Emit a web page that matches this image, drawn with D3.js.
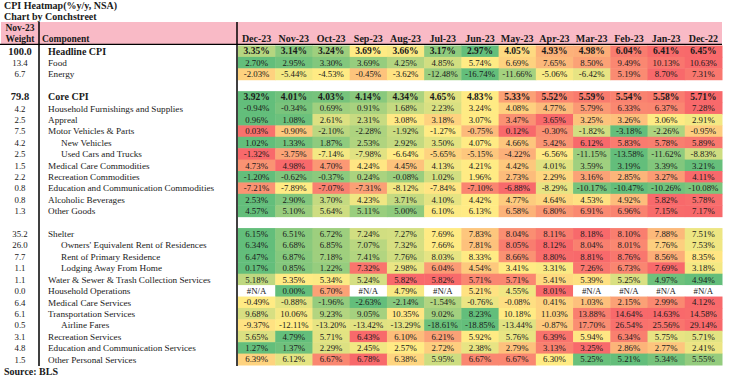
<!DOCTYPE html>
<html>
<head>
<meta charset="utf-8">
<script src="https://cdn.jsdelivr.net/npm/d3@7"></script>
<style>
  html, body { margin: 0; padding: 0; background: #fff; }
  svg { display: block; }
  text { font-family: Georgia, "Liberation Serif", "DejaVu Serif", serif; fill: #1a1a1a; }
</style>
</head>
<body>
<svg id="chart" width="740" height="380"></svg>
<script>
// ---------------- DATA ----------------
const months = ["Dec-23","Nov-23","Oct-23","Sep-23","Aug-23","Jul-23","Jun-23","May-23","Apr-23","Mar-23","Feb-23","Jan-23","Dec-22"];

const components = [
  "Headline CPI","Food","Energy",null,
  "Core CPI","Household Furnishings and Supplies","Appreal","Motor Vehicles & Parts",
  "New Vehicles","Used Cars and Trucks","Medical Care Commodities","Recreation Commodities",
  "Education and Communication Commodities","Alcoholic Beverages","Other Goods",null,
  "Shelter","Owners' Equivalent Rent of Residences","Rent of Primary Residence","Lodging Away From Home",
  "Water & Sewer & Trash Collection Services","Household Operations","Medical Care Services",
  "Transportation Services","Airline Fares","Recreation Services",
  "Education and Communication Services","Other Personal Services"
];

const weights = [
  "100.0","13.4","6.7",null,
  "79.8","4.2","2.5","7.5","4.2","2.5","1.5","2.2","0.8","0.8","1.3",null,
  "35.2","26.0","7.7","1.1","1.1","0.0","6.4","6.1","0.5","3.1","4.8","1.5"
];

const subComponents = ["New Vehicles","Used Cars and Trucks","Owners' Equivalent Rent of Residences",
  "Rent of Primary Residence","Lodging Away From Home","Airline Fares"];
const aggregates = ["Headline CPI","Core CPI"];

const values = [
  [3.35,3.14,3.24,3.69,3.66,3.17,2.97,4.05,4.93,4.98,6.04,6.41,6.45],
  [2.70,2.95,3.30,3.69,4.25,4.85,5.74,6.69,7.65,8.50,9.49,10.13,10.63],
  [-2.03,-5.44,-4.53,-0.45,-3.62,-12.48,-16.74,-11.66,-5.06,-6.42,5.19,8.70,7.31],
  null,
  [3.92,4.01,4.03,4.14,4.34,4.65,4.83,5.33,5.52,5.59,5.54,5.58,5.71],
  [-0.94,-0.34,0.69,0.91,1.68,2.23,3.24,4.08,4.77,5.79,6.33,6.37,7.28],
  [0.96,1.08,2.61,2.31,3.08,3.18,3.07,3.47,3.65,3.25,3.26,3.06,2.91],
  [0.03,-0.90,-2.10,-2.28,-1.92,-1.27,-0.75,0.12,-0.30,-1.82,-3.18,-2.26,-0.95],
  [1.02,1.33,1.87,2.53,2.92,3.50,4.07,4.66,5.42,6.12,5.83,5.78,5.89],
  [-1.32,-3.75,-7.14,-7.98,-6.64,-5.65,-5.15,-4.22,-6.56,-11.15,-13.58,-11.62,-8.83],
  [4.73,4.98,4.70,4.24,4.45,4.13,4.21,4.42,4.01,3.59,3.19,3.39,3.21],
  [-1.20,-0.62,-0.37,0.24,-0.08,1.02,1.96,2.73,2.29,3.16,2.85,3.27,4.11],
  [-7.21,-7.89,-7.07,-7.31,-8.12,-7.84,-7.10,-6.88,-8.29,-10.17,-10.47,-10.26,-10.08],
  [2.53,2.90,3.70,4.23,3.71,4.10,4.42,4.77,4.64,4.53,4.92,5.82,5.78],
  [4.57,5.10,5.64,5.11,5.00,6.10,6.13,6.58,6.80,6.91,6.96,7.15,7.17],
  null,
  [6.15,6.51,6.72,7.24,7.27,7.69,7.83,8.04,8.11,8.18,8.10,7.88,7.51],
  [6.34,6.68,6.85,7.07,7.32,7.66,7.81,8.05,8.12,8.04,8.01,7.76,7.53],
  [6.47,6.87,7.18,7.41,7.76,8.03,8.33,8.66,8.80,8.81,8.76,8.56,8.35],
  [0.17,0.85,1.22,7.32,2.98,6.04,4.54,3.41,3.31,7.26,6.73,7.69,3.18],
  [5.18,5.35,5.34,5.24,5.82,5.82,5.71,5.71,5.41,5.39,5.25,4.97,4.94],
  [null,0.00,6.70,null,4.79,null,5.21,4.55,8.01,null,null,null,null],
  [-0.49,-0.88,-1.96,-2.63,-2.14,-1.54,-0.76,-0.08,0.41,1.03,2.15,2.99,4.12],
  [9.68,10.06,9.23,9.05,10.35,9.02,8.23,10.18,11.03,13.88,14.64,14.63,14.58],
  [-9.37,-12.11,-13.20,-13.42,-13.29,-18.61,-18.85,-13.44,-0.87,17.70,26.54,25.56,29.14],
  [5.65,4.79,5.71,6.43,6.10,6.21,5.92,5.76,6.39,5.94,6.34,5.75,5.71],
  [1.27,1.37,2.29,2.45,2.57,2.72,2.38,2.79,3.13,3.25,2.86,2.77,2.41],
  [6.39,6.12,6.67,6.78,6.38,5.95,6.67,6.67,6.30,5.25,5.21,5.34,5.55]
];

// ---------------- DRAW ----------------
const svg = d3.select("#chart");

const x = d3.scaleBand().domain(months).range([238, 722]).padding(0);
const y = d3.scaleBand().domain(d3.range(components.length)).range([45.5, 365]).padding(0);

const GREEN = "#63BE7B", YELLOW = "#FFEB84", RED = "#F8696B";

// header band
svg.append("rect").attr("x", 1).attr("y", 22).attr("width", 721).attr("height", 22)
  .attr("fill", "#F9BAC6");

// title
svg.append("text").attr("x", 4).attr("y", 9).attr("font-size", 10).attr("font-weight", "bold")
  .text("CPI Heatmap(%y/y, NSA)");
svg.append("text").attr("x", 4).attr("y", 20).attr("font-size", 10).attr("font-weight", "bold")
  .text("Chart by Conchstreet");

// header texts
svg.append("text").attr("x", 20).attr("y", 31).attr("text-anchor", "middle")
  .attr("font-size", 9.5).attr("font-weight", "bold").text("Nov-23");
svg.append("text").attr("x", 20).attr("y", 42).attr("text-anchor", "middle")
  .attr("font-size", 9.5).attr("font-weight", "bold").text("Weight");
svg.append("text").attr("x", 42).attr("y", 42)
  .attr("font-size", 9.5).attr("font-weight", "bold").text("Component");

svg.append("g").selectAll("text").data(months).join("text")
  .attr("x", d => x(d) + x.bandwidth() / 2).attr("y", 42)
  .attr("text-anchor", "middle").attr("font-size", 10).attr("font-weight", "bold")
  .text(d => d);

// rows
const rows = svg.append("g");
components.forEach((name, i) => {
  if (name === null) return;
  const vals = values[i];
  const finite = vals.filter(v => v !== null).sort(d3.ascending);
  const color = d3.scaleLinear()
    .domain([d3.min(finite), d3.quantile(finite, 0.5), d3.max(finite)])
    .range([GREEN, YELLOW, RED])
    .interpolate(d3.interpolateRgb);
  const isAgg = aggregates.includes(name);
  const isSub = subComponents.includes(name);
  const cy = y(i) + y.bandwidth() / 2;

  const g = rows.append("g");
  g.selectAll("rect").data(vals.map((v, j) => ({ v, m: months[j] }))).join("rect")
    .attr("x", d => x(d.m)).attr("y", y(i))
    .attr("width", x.bandwidth() + 0.5).attr("height", y.bandwidth() + 0.5)
    .attr("fill", d => d.v === null ? "#ffffff" : color(d.v));
  g.selectAll("text").data(vals.map((v, j) => ({ v, m: months[j] }))).join("text")
    .attr("x", d => x(d.m) + x.bandwidth() / 2).attr("y", cy + 3.2)
    .attr("text-anchor", "middle")
    .attr("font-size", isAgg ? 9.5 : 8.8)
    .attr("font-weight", isAgg ? "bold" : "normal")
    .text(d => d.v === null ? "#N/A" : d.v.toFixed(2) + "%");

  rows.append("text").attr("x", 20).attr("y", cy + 3.3).attr("text-anchor", "middle")
    .attr("font-size", isAgg ? 10.5 : 8.8).attr("font-weight", isAgg ? "bold" : "normal")
    .text(weights[i]);
  rows.append("text").attr("x", isSub ? 61 : 48).attr("y", cy + 3.3)
    .attr("font-size", isAgg ? 10 : 9.2).attr("font-weight", isAgg ? "bold" : "normal")
    .text(name);
});

// lines
svg.append("line").attr("x1", 0).attr("x2", 722).attr("y1", 44.3).attr("y2", 44.3)
  .attr("stroke", "#000").attr("stroke-width", 1.3);
svg.append("line").attr("x1", 39).attr("x2", 39).attr("y1", 22).attr("y2", 366)
  .attr("stroke", "#000").attr("stroke-width", 1.5);
svg.append("line").attr("x1", 237).attr("x2", 237).attr("y1", 22).attr("y2", 366)
  .attr("stroke", "#000").attr("stroke-width", 1.5);

// source
svg.append("text").attr("x", 4).attr("y", 375).attr("font-size", 10).attr("font-weight", "bold")
  .text("Source: BLS");
</script>
</body>
</html>
